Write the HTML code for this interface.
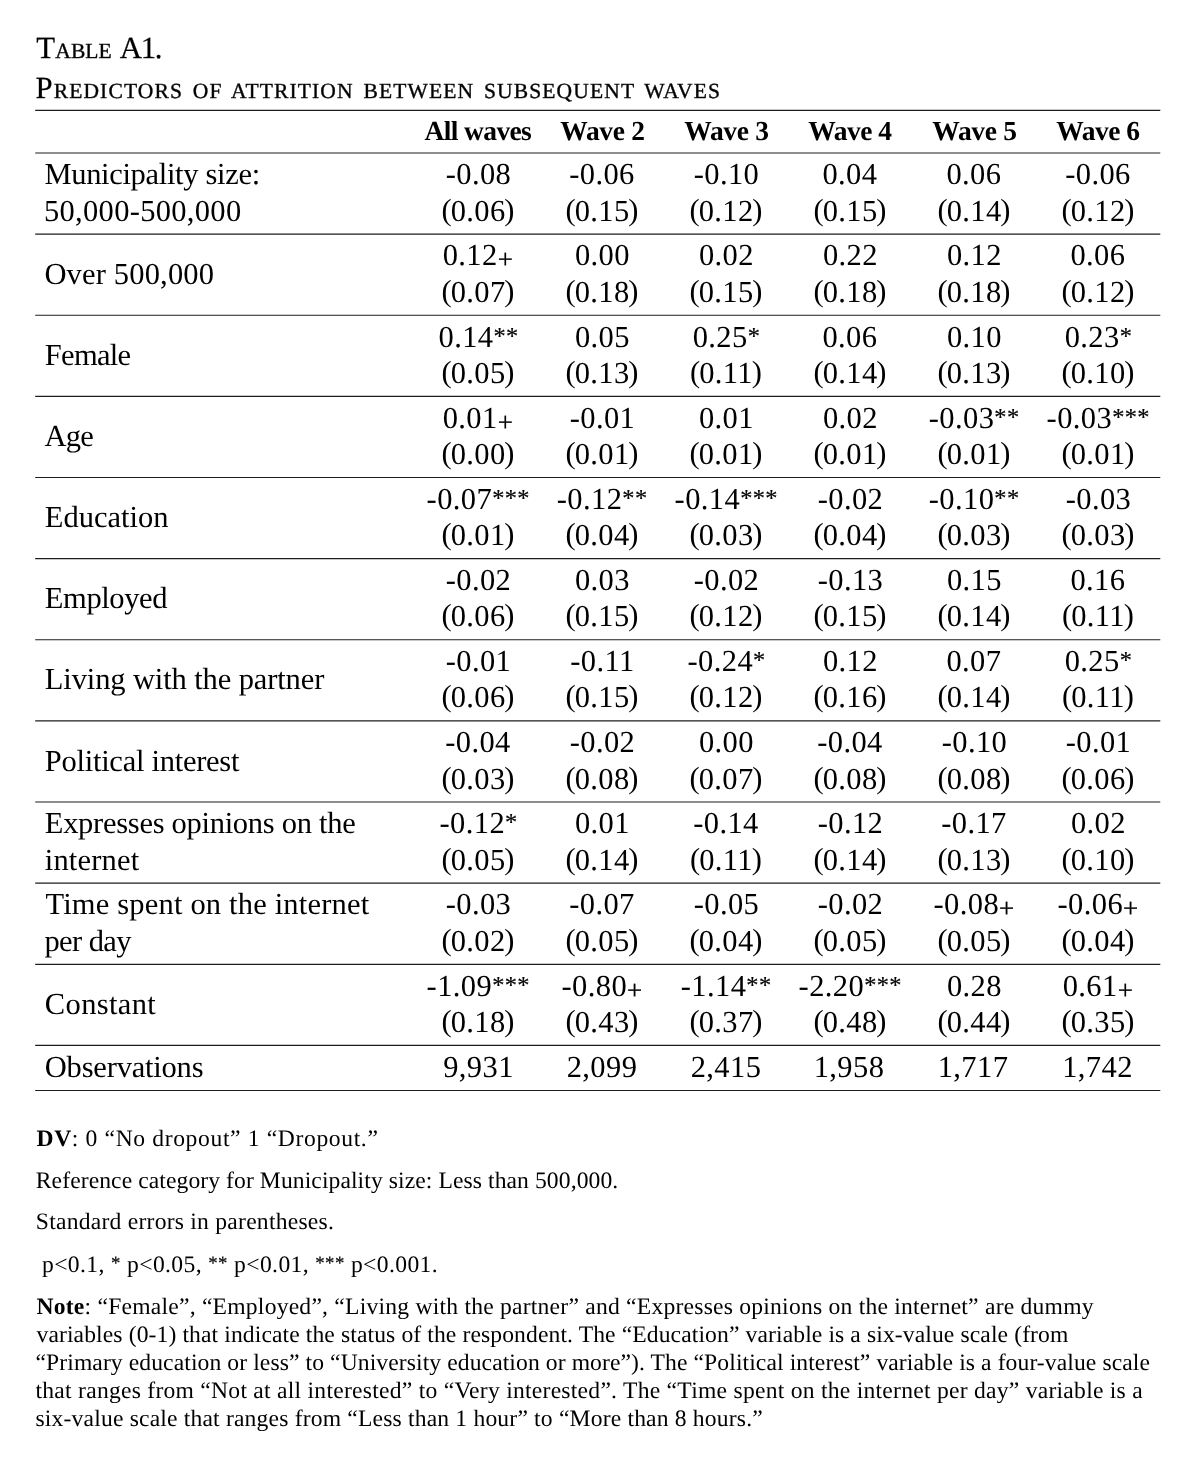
<!DOCTYPE html><html lang="en"><head><meta charset="utf-8"><title>Table A1. Predictors of attrition between subsequent waves</title><style>
html,body{margin:0;padding:0;background:#fff;}
body{width:1196px;height:1462px;position:relative;overflow:hidden;font-family:"Liberation Serif",serif;color:#000;text-rendering:geometricPrecision;}
.t{position:absolute;white-space:nowrap;line-height:normal;margin:0;padding:0;}
.smc{font-size:.7em;text-transform:uppercase;-webkit-text-stroke:.4px #111;}
.num{text-align:center;}
.st{font-size:.8em;position:relative;top:-.14em;-webkit-text-stroke:.2px #000;}
.pl{font-size:.88em;position:relative;top:.115em;-webkit-text-stroke:.3px #000;}
.pa{margin-right:-1.4px;position:relative;top:-.035em;}
.pb{margin-left:-1.4px;position:relative;top:-.035em;}
.rules{position:absolute;left:0;top:0;}
.title{-webkit-text-stroke:.25px #111;}
</style></head><body>
<svg class="rules" width="1196" height="1462" viewBox="0 0 1196 1462">
<line x1="35.2" x2="1160.3" y1="110.40" y2="110.40" stroke="#1c1c1c" stroke-width="1.15"/>
<line x1="35.2" x2="1160.3" y1="153.00" y2="153.00" stroke="#1c1c1c" stroke-width="1.15"/>
<line x1="35.2" x2="1160.3" y1="234.13" y2="234.13" stroke="#1c1c1c" stroke-width="1.15"/>
<line x1="35.2" x2="1160.3" y1="315.26" y2="315.26" stroke="#1c1c1c" stroke-width="1.15"/>
<line x1="35.2" x2="1160.3" y1="396.39" y2="396.39" stroke="#1c1c1c" stroke-width="1.15"/>
<line x1="35.2" x2="1160.3" y1="477.52" y2="477.52" stroke="#1c1c1c" stroke-width="1.15"/>
<line x1="35.2" x2="1160.3" y1="558.65" y2="558.65" stroke="#1c1c1c" stroke-width="1.15"/>
<line x1="35.2" x2="1160.3" y1="639.78" y2="639.78" stroke="#1c1c1c" stroke-width="1.15"/>
<line x1="35.2" x2="1160.3" y1="720.91" y2="720.91" stroke="#1c1c1c" stroke-width="1.15"/>
<line x1="35.2" x2="1160.3" y1="802.04" y2="802.04" stroke="#1c1c1c" stroke-width="1.15"/>
<line x1="35.2" x2="1160.3" y1="883.17" y2="883.17" stroke="#1c1c1c" stroke-width="1.15"/>
<line x1="35.2" x2="1160.3" y1="964.30" y2="964.30" stroke="#1c1c1c" stroke-width="1.15"/>
<line x1="35.2" x2="1160.3" y1="1045.43" y2="1045.43" stroke="#1c1c1c" stroke-width="1.15"/>
<line x1="35.2" x2="1160.3" y1="1090.50" y2="1090.50" stroke="#1c1c1c" stroke-width="1.15"/>
</svg>
<div class="t title" id="i0" style="left:36.30px;top:31px;font-size:30.80px;letter-spacing:0.100px;">T<span class="smc">able</span> <span style="letter-spacing:-1.3px">A1.</span></div>
<div class="t title" id="i1" style="left:35.40px;top:71px;font-size:30.80px;letter-spacing:1.123px;word-spacing:3.200px;">P<span class="smc">redictors of attrition between subsequent waves</span></div>
<div class="t hd" id="i2" style="left:424.50px;top:115px;font-size:27.50px;letter-spacing:-0.625px;"><b>All waves</b></div>
<div class="t hd" id="i3" style="left:560.20px;top:115px;font-size:27.50px;letter-spacing:-0.280px;"><b>Wave 2</b></div>
<div class="t hd" id="i4" style="left:684.20px;top:115px;font-size:27.50px;letter-spacing:-0.280px;"><b>Wave 3</b></div>
<div class="t hd" id="i5" style="left:808.20px;top:115px;font-size:27.50px;letter-spacing:-0.480px;"><b>Wave 4</b></div>
<div class="t hd" id="i6" style="left:932.20px;top:115px;font-size:27.50px;letter-spacing:-0.280px;"><b>Wave 5</b></div>
<div class="t hd" id="i7" style="left:1056.20px;top:115px;font-size:27.50px;letter-spacing:-0.480px;"><b>Wave 6</b></div>
<div class="t lab" id="i8" style="left:44.40px;top:157px;font-size:30.50px;letter-spacing:-0.312px;">Municipality size:</div>
<div class="t lab" id="i9" style="left:44.00px;top:194px;font-size:30.50px;letter-spacing:0.308px;">50,000-500,000</div>
<div class="t num" id="i10" style="left:445.70px;top:157px;font-size:30.50px;letter-spacing:0.400px;">-0.08</div>
<div class="t num" id="i11" style="left:569.20px;top:157px;font-size:30.50px;letter-spacing:0.400px;">-0.06</div>
<div class="t num" id="i12" style="left:693.70px;top:157px;font-size:30.50px;letter-spacing:0.400px;">-0.10</div>
<div class="t num" id="i13" style="left:822.40px;top:157px;font-size:30.50px;letter-spacing:0.400px;">0.04</div>
<div class="t num" id="i14" style="left:946.40px;top:157px;font-size:30.50px;letter-spacing:0.400px;">0.06</div>
<div class="t num" id="i15" style="left:1065.20px;top:157px;font-size:30.50px;letter-spacing:0.400px;">-0.06</div>
<div class="t num" id="i16" style="left:441.50px;top:194px;font-size:30.50px;letter-spacing:0.400px;"><span class="pa">(</span>0.06<span class="pb">)</span></div>
<div class="t num" id="i17" style="left:565.50px;top:194px;font-size:30.50px;letter-spacing:0.400px;"><span class="pa">(</span>0.15<span class="pb">)</span></div>
<div class="t num" id="i18" style="left:689.50px;top:194px;font-size:30.50px;letter-spacing:0.400px;"><span class="pa">(</span>0.12<span class="pb">)</span></div>
<div class="t num" id="i19" style="left:813.50px;top:194px;font-size:30.50px;letter-spacing:0.400px;"><span class="pa">(</span>0.15<span class="pb">)</span></div>
<div class="t num" id="i20" style="left:937.50px;top:194px;font-size:30.50px;letter-spacing:0.400px;"><span class="pa">(</span>0.14<span class="pb">)</span></div>
<div class="t num" id="i21" style="left:1061.50px;top:194px;font-size:30.50px;letter-spacing:0.400px;"><span class="pa">(</span>0.12<span class="pb">)</span></div>
<div class="t lab" id="i22" style="left:44.40px;top:257px;font-size:30.50px;letter-spacing:0.173px;">Over 500,000</div>
<div class="t num" id="i23" style="left:442.70px;top:238px;font-size:30.50px;letter-spacing:0.400px;">0.12<span class="pl">+</span></div>
<div class="t num" id="i24" style="left:574.90px;top:238px;font-size:30.50px;letter-spacing:0.400px;">0.00</div>
<div class="t num" id="i25" style="left:698.90px;top:238px;font-size:30.50px;letter-spacing:0.400px;">0.02</div>
<div class="t num" id="i26" style="left:822.90px;top:238px;font-size:30.50px;letter-spacing:0.400px;">0.22</div>
<div class="t num" id="i27" style="left:946.90px;top:238px;font-size:30.50px;letter-spacing:0.400px;">0.12</div>
<div class="t num" id="i28" style="left:1070.40px;top:238px;font-size:30.50px;letter-spacing:0.400px;">0.06</div>
<div class="t num" id="i29" style="left:441.50px;top:275px;font-size:30.50px;letter-spacing:0.400px;"><span class="pa">(</span>0.07<span class="pb">)</span></div>
<div class="t num" id="i30" style="left:565.50px;top:275px;font-size:30.50px;letter-spacing:0.400px;"><span class="pa">(</span>0.18<span class="pb">)</span></div>
<div class="t num" id="i31" style="left:689.50px;top:275px;font-size:30.50px;letter-spacing:0.400px;"><span class="pa">(</span>0.15<span class="pb">)</span></div>
<div class="t num" id="i32" style="left:813.50px;top:275px;font-size:30.50px;letter-spacing:0.400px;"><span class="pa">(</span>0.18<span class="pb">)</span></div>
<div class="t num" id="i33" style="left:937.50px;top:275px;font-size:30.50px;letter-spacing:0.400px;"><span class="pa">(</span>0.18<span class="pb">)</span></div>
<div class="t num" id="i34" style="left:1061.50px;top:275px;font-size:30.50px;letter-spacing:0.400px;"><span class="pa">(</span>0.12<span class="pb">)</span></div>
<div class="t lab" id="i35" style="left:44.80px;top:338px;font-size:30.50px;letter-spacing:-0.700px;">Female</div>
<div class="t num" id="i36" style="left:438.50px;top:320px;font-size:30.50px;letter-spacing:0.400px;">0.14<span class="st">**</span></div>
<div class="t num" id="i37" style="left:574.90px;top:320px;font-size:30.50px;letter-spacing:0.400px;">0.05</div>
<div class="t num" id="i38" style="left:692.70px;top:320px;font-size:30.50px;letter-spacing:0.400px;">0.25<span class="st">*</span></div>
<div class="t num" id="i39" style="left:822.40px;top:320px;font-size:30.50px;letter-spacing:0.400px;">0.06</div>
<div class="t num" id="i40" style="left:946.90px;top:320px;font-size:30.50px;letter-spacing:0.400px;">0.10</div>
<div class="t num" id="i41" style="left:1064.70px;top:320px;font-size:30.50px;letter-spacing:0.400px;">0.23<span class="st">*</span></div>
<div class="t num" id="i42" style="left:441.50px;top:356px;font-size:30.50px;letter-spacing:0.400px;"><span class="pa">(</span>0.05<span class="pb">)</span></div>
<div class="t num" id="i43" style="left:565.50px;top:356px;font-size:30.50px;letter-spacing:0.400px;"><span class="pa">(</span>0.13<span class="pb">)</span></div>
<div class="t num" id="i44" style="left:690.00px;top:356px;font-size:30.50px;letter-spacing:0.400px;"><span class="pa">(</span>0.11<span class="pb">)</span></div>
<div class="t num" id="i45" style="left:813.50px;top:356px;font-size:30.50px;letter-spacing:0.400px;"><span class="pa">(</span>0.14<span class="pb">)</span></div>
<div class="t num" id="i46" style="left:937.50px;top:356px;font-size:30.50px;letter-spacing:0.400px;"><span class="pa">(</span>0.13<span class="pb">)</span></div>
<div class="t num" id="i47" style="left:1061.50px;top:356px;font-size:30.50px;letter-spacing:0.400px;"><span class="pa">(</span>0.10<span class="pb">)</span></div>
<div class="t lab" id="i48" style="left:44.50px;top:419px;font-size:30.50px;letter-spacing:-0.800px;">Age</div>
<div class="t num" id="i49" style="left:442.70px;top:401px;font-size:30.50px;letter-spacing:0.400px;">0.01<span class="pl">+</span></div>
<div class="t num" id="i50" style="left:569.70px;top:401px;font-size:30.50px;letter-spacing:0.400px;">-0.01</div>
<div class="t num" id="i51" style="left:698.90px;top:401px;font-size:30.50px;letter-spacing:0.400px;">0.01</div>
<div class="t num" id="i52" style="left:822.90px;top:401px;font-size:30.50px;letter-spacing:0.400px;">0.02</div>
<div class="t num" id="i53" style="left:928.80px;top:401px;font-size:30.50px;letter-spacing:0.400px;">-0.03<span class="st">**</span></div>
<div class="t num" id="i54" style="left:1046.60px;top:401px;font-size:30.50px;letter-spacing:0.400px;">-0.03<span class="st">***</span></div>
<div class="t num" id="i55" style="left:441.50px;top:437px;font-size:30.50px;letter-spacing:0.400px;"><span class="pa">(</span>0.00<span class="pb">)</span></div>
<div class="t num" id="i56" style="left:565.50px;top:437px;font-size:30.50px;letter-spacing:0.400px;"><span class="pa">(</span>0.01<span class="pb">)</span></div>
<div class="t num" id="i57" style="left:689.50px;top:437px;font-size:30.50px;letter-spacing:0.400px;"><span class="pa">(</span>0.01<span class="pb">)</span></div>
<div class="t num" id="i58" style="left:813.50px;top:437px;font-size:30.50px;letter-spacing:0.400px;"><span class="pa">(</span>0.01<span class="pb">)</span></div>
<div class="t num" id="i59" style="left:937.50px;top:437px;font-size:30.50px;letter-spacing:0.400px;"><span class="pa">(</span>0.01<span class="pb">)</span></div>
<div class="t num" id="i60" style="left:1061.50px;top:437px;font-size:30.50px;letter-spacing:0.400px;"><span class="pa">(</span>0.01<span class="pb">)</span></div>
<div class="t lab" id="i61" style="left:44.80px;top:500px;font-size:30.50px;letter-spacing:0.000px;">Education</div>
<div class="t num" id="i62" style="left:426.60px;top:482px;font-size:30.50px;letter-spacing:0.400px;">-0.07<span class="st">***</span></div>
<div class="t num" id="i63" style="left:556.80px;top:482px;font-size:30.50px;letter-spacing:0.400px;">-0.12<span class="st">**</span></div>
<div class="t num" id="i64" style="left:674.60px;top:482px;font-size:30.50px;letter-spacing:0.400px;">-0.14<span class="st">***</span></div>
<div class="t num" id="i65" style="left:817.70px;top:482px;font-size:30.50px;letter-spacing:0.400px;">-0.02</div>
<div class="t num" id="i66" style="left:928.80px;top:482px;font-size:30.50px;letter-spacing:0.400px;">-0.10<span class="st">**</span></div>
<div class="t num" id="i67" style="left:1065.70px;top:482px;font-size:30.50px;letter-spacing:0.400px;">-0.03</div>
<div class="t num" id="i68" style="left:441.50px;top:518px;font-size:30.50px;letter-spacing:0.400px;"><span class="pa">(</span>0.01<span class="pb">)</span></div>
<div class="t num" id="i69" style="left:565.50px;top:518px;font-size:30.50px;letter-spacing:0.400px;"><span class="pa">(</span>0.04<span class="pb">)</span></div>
<div class="t num" id="i70" style="left:689.50px;top:518px;font-size:30.50px;letter-spacing:0.400px;"><span class="pa">(</span>0.03<span class="pb">)</span></div>
<div class="t num" id="i71" style="left:813.50px;top:518px;font-size:30.50px;letter-spacing:0.400px;"><span class="pa">(</span>0.04<span class="pb">)</span></div>
<div class="t num" id="i72" style="left:937.50px;top:518px;font-size:30.50px;letter-spacing:0.400px;"><span class="pa">(</span>0.03<span class="pb">)</span></div>
<div class="t num" id="i73" style="left:1061.50px;top:518px;font-size:30.50px;letter-spacing:0.400px;"><span class="pa">(</span>0.03<span class="pb">)</span></div>
<div class="t lab" id="i74" style="left:44.80px;top:581px;font-size:30.50px;letter-spacing:-0.386px;">Employed</div>
<div class="t num" id="i75" style="left:445.70px;top:563px;font-size:30.50px;letter-spacing:0.400px;">-0.02</div>
<div class="t num" id="i76" style="left:574.90px;top:563px;font-size:30.50px;letter-spacing:0.400px;">0.03</div>
<div class="t num" id="i77" style="left:693.70px;top:563px;font-size:30.50px;letter-spacing:0.400px;">-0.02</div>
<div class="t num" id="i78" style="left:817.70px;top:563px;font-size:30.50px;letter-spacing:0.400px;">-0.13</div>
<div class="t num" id="i79" style="left:946.90px;top:563px;font-size:30.50px;letter-spacing:0.400px;">0.15</div>
<div class="t num" id="i80" style="left:1070.40px;top:563px;font-size:30.50px;letter-spacing:0.400px;">0.16</div>
<div class="t num" id="i81" style="left:441.50px;top:599px;font-size:30.50px;letter-spacing:0.400px;"><span class="pa">(</span>0.06<span class="pb">)</span></div>
<div class="t num" id="i82" style="left:565.50px;top:599px;font-size:30.50px;letter-spacing:0.400px;"><span class="pa">(</span>0.15<span class="pb">)</span></div>
<div class="t num" id="i83" style="left:689.50px;top:599px;font-size:30.50px;letter-spacing:0.400px;"><span class="pa">(</span>0.12<span class="pb">)</span></div>
<div class="t num" id="i84" style="left:813.50px;top:599px;font-size:30.50px;letter-spacing:0.400px;"><span class="pa">(</span>0.15<span class="pb">)</span></div>
<div class="t num" id="i85" style="left:937.50px;top:599px;font-size:30.50px;letter-spacing:0.400px;"><span class="pa">(</span>0.14<span class="pb">)</span></div>
<div class="t num" id="i86" style="left:1062.00px;top:599px;font-size:30.50px;letter-spacing:0.400px;"><span class="pa">(</span>0.11<span class="pb">)</span></div>
<div class="t lab" id="i87" style="left:44.80px;top:662px;font-size:30.50px;letter-spacing:-0.114px;">Living with the partner</div>
<div class="t num" id="i88" style="left:445.70px;top:644px;font-size:30.50px;letter-spacing:0.400px;">-0.01</div>
<div class="t num" id="i89" style="left:570.20px;top:644px;font-size:30.50px;letter-spacing:0.400px;">-0.11</div>
<div class="t num" id="i90" style="left:687.50px;top:644px;font-size:30.50px;letter-spacing:0.400px;">-0.24<span class="st">*</span></div>
<div class="t num" id="i91" style="left:822.90px;top:644px;font-size:30.50px;letter-spacing:0.400px;">0.12</div>
<div class="t num" id="i92" style="left:946.40px;top:644px;font-size:30.50px;letter-spacing:0.400px;">0.07</div>
<div class="t num" id="i93" style="left:1064.70px;top:644px;font-size:30.50px;letter-spacing:0.400px;">0.25<span class="st">*</span></div>
<div class="t num" id="i94" style="left:441.50px;top:680px;font-size:30.50px;letter-spacing:0.400px;"><span class="pa">(</span>0.06<span class="pb">)</span></div>
<div class="t num" id="i95" style="left:565.50px;top:680px;font-size:30.50px;letter-spacing:0.400px;"><span class="pa">(</span>0.15<span class="pb">)</span></div>
<div class="t num" id="i96" style="left:689.50px;top:680px;font-size:30.50px;letter-spacing:0.400px;"><span class="pa">(</span>0.12<span class="pb">)</span></div>
<div class="t num" id="i97" style="left:813.50px;top:680px;font-size:30.50px;letter-spacing:0.400px;"><span class="pa">(</span>0.16<span class="pb">)</span></div>
<div class="t num" id="i98" style="left:937.50px;top:680px;font-size:30.50px;letter-spacing:0.400px;"><span class="pa">(</span>0.14<span class="pb">)</span></div>
<div class="t num" id="i99" style="left:1062.00px;top:680px;font-size:30.50px;letter-spacing:0.400px;"><span class="pa">(</span>0.11<span class="pb">)</span></div>
<div class="t lab" id="i100" style="left:44.80px;top:744px;font-size:30.50px;letter-spacing:-0.259px;">Political interest</div>
<div class="t num" id="i101" style="left:445.20px;top:725px;font-size:30.50px;letter-spacing:0.400px;">-0.04</div>
<div class="t num" id="i102" style="left:569.70px;top:725px;font-size:30.50px;letter-spacing:0.400px;">-0.02</div>
<div class="t num" id="i103" style="left:698.90px;top:725px;font-size:30.50px;letter-spacing:0.400px;">0.00</div>
<div class="t num" id="i104" style="left:817.20px;top:725px;font-size:30.50px;letter-spacing:0.400px;">-0.04</div>
<div class="t num" id="i105" style="left:941.70px;top:725px;font-size:30.50px;letter-spacing:0.400px;">-0.10</div>
<div class="t num" id="i106" style="left:1065.70px;top:725px;font-size:30.50px;letter-spacing:0.400px;">-0.01</div>
<div class="t num" id="i107" style="left:441.50px;top:762px;font-size:30.50px;letter-spacing:0.400px;"><span class="pa">(</span>0.03<span class="pb">)</span></div>
<div class="t num" id="i108" style="left:565.50px;top:762px;font-size:30.50px;letter-spacing:0.400px;"><span class="pa">(</span>0.08<span class="pb">)</span></div>
<div class="t num" id="i109" style="left:689.50px;top:762px;font-size:30.50px;letter-spacing:0.400px;"><span class="pa">(</span>0.07<span class="pb">)</span></div>
<div class="t num" id="i110" style="left:813.50px;top:762px;font-size:30.50px;letter-spacing:0.400px;"><span class="pa">(</span>0.08<span class="pb">)</span></div>
<div class="t num" id="i111" style="left:937.50px;top:762px;font-size:30.50px;letter-spacing:0.400px;"><span class="pa">(</span>0.08<span class="pb">)</span></div>
<div class="t num" id="i112" style="left:1061.50px;top:762px;font-size:30.50px;letter-spacing:0.400px;"><span class="pa">(</span>0.06<span class="pb">)</span></div>
<div class="t lab" id="i113" style="left:44.80px;top:806px;font-size:30.50px;letter-spacing:-0.283px;">Expresses opinions on the</div>
<div class="t lab" id="i114" style="left:44.80px;top:843px;font-size:30.50px;letter-spacing:0.171px;">internet</div>
<div class="t num" id="i115" style="left:439.50px;top:806px;font-size:30.50px;letter-spacing:0.400px;">-0.12<span class="st">*</span></div>
<div class="t num" id="i116" style="left:574.90px;top:806px;font-size:30.50px;letter-spacing:0.400px;">0.01</div>
<div class="t num" id="i117" style="left:693.20px;top:806px;font-size:30.50px;letter-spacing:0.400px;">-0.14</div>
<div class="t num" id="i118" style="left:817.70px;top:806px;font-size:30.50px;letter-spacing:0.400px;">-0.12</div>
<div class="t num" id="i119" style="left:941.20px;top:806px;font-size:30.50px;letter-spacing:0.400px;">-0.17</div>
<div class="t num" id="i120" style="left:1070.90px;top:806px;font-size:30.50px;letter-spacing:0.400px;">0.02</div>
<div class="t num" id="i121" style="left:441.50px;top:843px;font-size:30.50px;letter-spacing:0.400px;"><span class="pa">(</span>0.05<span class="pb">)</span></div>
<div class="t num" id="i122" style="left:565.50px;top:843px;font-size:30.50px;letter-spacing:0.400px;"><span class="pa">(</span>0.14<span class="pb">)</span></div>
<div class="t num" id="i123" style="left:690.00px;top:843px;font-size:30.50px;letter-spacing:0.400px;"><span class="pa">(</span>0.11<span class="pb">)</span></div>
<div class="t num" id="i124" style="left:813.50px;top:843px;font-size:30.50px;letter-spacing:0.400px;"><span class="pa">(</span>0.14<span class="pb">)</span></div>
<div class="t num" id="i125" style="left:937.50px;top:843px;font-size:30.50px;letter-spacing:0.400px;"><span class="pa">(</span>0.13<span class="pb">)</span></div>
<div class="t num" id="i126" style="left:1061.50px;top:843px;font-size:30.50px;letter-spacing:0.400px;"><span class="pa">(</span>0.10<span class="pb">)</span></div>
<div class="t lab" id="i127" style="left:45.40px;top:887px;font-size:30.50px;letter-spacing:0.188px;">Time spent on the internet</div>
<div class="t lab" id="i128" style="left:44.40px;top:924px;font-size:30.50px;letter-spacing:-0.567px;">per day</div>
<div class="t num" id="i129" style="left:445.70px;top:887px;font-size:30.50px;letter-spacing:0.400px;">-0.03</div>
<div class="t num" id="i130" style="left:569.20px;top:887px;font-size:30.50px;letter-spacing:0.400px;">-0.07</div>
<div class="t num" id="i131" style="left:693.70px;top:887px;font-size:30.50px;letter-spacing:0.400px;">-0.05</div>
<div class="t num" id="i132" style="left:817.70px;top:887px;font-size:30.50px;letter-spacing:0.400px;">-0.02</div>
<div class="t num" id="i133" style="left:933.50px;top:887px;font-size:30.50px;letter-spacing:0.400px;">-0.08<span class="pl">+</span></div>
<div class="t num" id="i134" style="left:1057.50px;top:887px;font-size:30.50px;letter-spacing:0.400px;">-0.06<span class="pl">+</span></div>
<div class="t num" id="i135" style="left:441.50px;top:924px;font-size:30.50px;letter-spacing:0.400px;"><span class="pa">(</span>0.02<span class="pb">)</span></div>
<div class="t num" id="i136" style="left:565.50px;top:924px;font-size:30.50px;letter-spacing:0.400px;"><span class="pa">(</span>0.05<span class="pb">)</span></div>
<div class="t num" id="i137" style="left:689.50px;top:924px;font-size:30.50px;letter-spacing:0.400px;"><span class="pa">(</span>0.04<span class="pb">)</span></div>
<div class="t num" id="i138" style="left:813.50px;top:924px;font-size:30.50px;letter-spacing:0.400px;"><span class="pa">(</span>0.05<span class="pb">)</span></div>
<div class="t num" id="i139" style="left:937.50px;top:924px;font-size:30.50px;letter-spacing:0.400px;"><span class="pa">(</span>0.05<span class="pb">)</span></div>
<div class="t num" id="i140" style="left:1061.50px;top:924px;font-size:30.50px;letter-spacing:0.400px;"><span class="pa">(</span>0.04<span class="pb">)</span></div>
<div class="t lab" id="i141" style="left:44.80px;top:987px;font-size:30.50px;letter-spacing:0.371px;">Constant</div>
<div class="t num" id="i142" style="left:426.60px;top:969px;font-size:30.50px;letter-spacing:0.400px;">-1.09<span class="st">***</span></div>
<div class="t num" id="i143" style="left:561.50px;top:969px;font-size:30.50px;letter-spacing:0.400px;">-0.80<span class="pl">+</span></div>
<div class="t num" id="i144" style="left:680.80px;top:969px;font-size:30.50px;letter-spacing:0.400px;">-1.14<span class="st">**</span></div>
<div class="t num" id="i145" style="left:798.60px;top:969px;font-size:30.50px;letter-spacing:0.400px;">-2.20<span class="st">***</span></div>
<div class="t num" id="i146" style="left:946.90px;top:969px;font-size:30.50px;letter-spacing:0.400px;">0.28</div>
<div class="t num" id="i147" style="left:1062.70px;top:969px;font-size:30.50px;letter-spacing:0.400px;">0.61<span class="pl">+</span></div>
<div class="t num" id="i148" style="left:441.50px;top:1005px;font-size:30.50px;letter-spacing:0.400px;"><span class="pa">(</span>0.18<span class="pb">)</span></div>
<div class="t num" id="i149" style="left:565.50px;top:1005px;font-size:30.50px;letter-spacing:0.400px;"><span class="pa">(</span>0.43<span class="pb">)</span></div>
<div class="t num" id="i150" style="left:689.50px;top:1005px;font-size:30.50px;letter-spacing:0.400px;"><span class="pa">(</span>0.37<span class="pb">)</span></div>
<div class="t num" id="i151" style="left:813.50px;top:1005px;font-size:30.50px;letter-spacing:0.400px;"><span class="pa">(</span>0.48<span class="pb">)</span></div>
<div class="t num" id="i152" style="left:937.50px;top:1005px;font-size:30.50px;letter-spacing:0.400px;"><span class="pa">(</span>0.44<span class="pb">)</span></div>
<div class="t num" id="i153" style="left:1061.50px;top:1005px;font-size:30.50px;letter-spacing:0.400px;"><span class="pa">(</span>0.35<span class="pb">)</span></div>
<div class="t lab" id="i154" style="left:44.80px;top:1050px;font-size:30.50px;letter-spacing:-0.200px;">Observations</div>
<div class="t num" id="i155" style="left:443.20px;top:1050px;font-size:30.50px;letter-spacing:0.400px;">9,931</div>
<div class="t num" id="i156" style="left:566.70px;top:1050px;font-size:30.50px;letter-spacing:0.400px;">2,099</div>
<div class="t num" id="i157" style="left:690.70px;top:1050px;font-size:30.50px;letter-spacing:0.400px;">2,415</div>
<div class="t num" id="i158" style="left:813.70px;top:1050px;font-size:30.50px;letter-spacing:0.400px;">1,958</div>
<div class="t num" id="i159" style="left:937.70px;top:1050px;font-size:30.50px;letter-spacing:0.400px;">1,717</div>
<div class="t num" id="i160" style="left:1062.20px;top:1050px;font-size:30.50px;letter-spacing:0.400px;">1,742</div>
<div class="t note" id="i161" style="left:36.50px;top:1126px;font-size:23.60px;letter-spacing:0.633px;"><b>DV</b>: 0 “No dropout” 1 “Dropout.”</div>
<div class="t note" id="i162" style="left:35.80px;top:1168px;font-size:23.60px;letter-spacing:0.088px;">Reference category for Municipality size: Less than 500,000.</div>
<div class="t note" id="i163" style="left:35.80px;top:1209px;font-size:23.60px;letter-spacing:0.240px;">Standard errors in parentheses.</div>
<div class="t note" id="i164" style="left:42.00px;top:1252px;font-size:23.60px;letter-spacing:0.369px;">p&lt;0.1, <span class="st">*</span> p&lt;0.05, <span class="st">**</span> p&lt;0.01, <span class="st">***</span> p&lt;0.001.</div>
<div class="t note" id="i165" style="left:36.50px;top:1294px;font-size:23.60px;letter-spacing:0.225px;"><b>Note</b>: “Female”, “Employed”, “Living with the partner” and “Expresses opinions on the internet” are dummy</div>
<div class="t note" id="i166" style="left:36.50px;top:1322px;font-size:23.60px;letter-spacing:0.111px;">variables (0-1) that indicate the status of the respondent. The “Education” variable is a six-value scale (from</div>
<div class="t note" id="i167" style="left:35.50px;top:1350px;font-size:23.60px;letter-spacing:0.097px;">“Primary education or less” to “University education or more”). The “Political interest” variable is a four-value scale</div>
<div class="t note" id="i168" style="left:35.50px;top:1378px;font-size:23.60px;letter-spacing:0.254px;">that ranges from “Not at all interested” to “Very interested”. The “Time spent on the internet per day” variable is a</div>
<div class="t note" id="i169" style="left:35.50px;top:1406px;font-size:23.60px;letter-spacing:0.177px;">six-value scale that ranges from “Less than 1 hour” to “More than 8 hours.”</div>
</body></html>
